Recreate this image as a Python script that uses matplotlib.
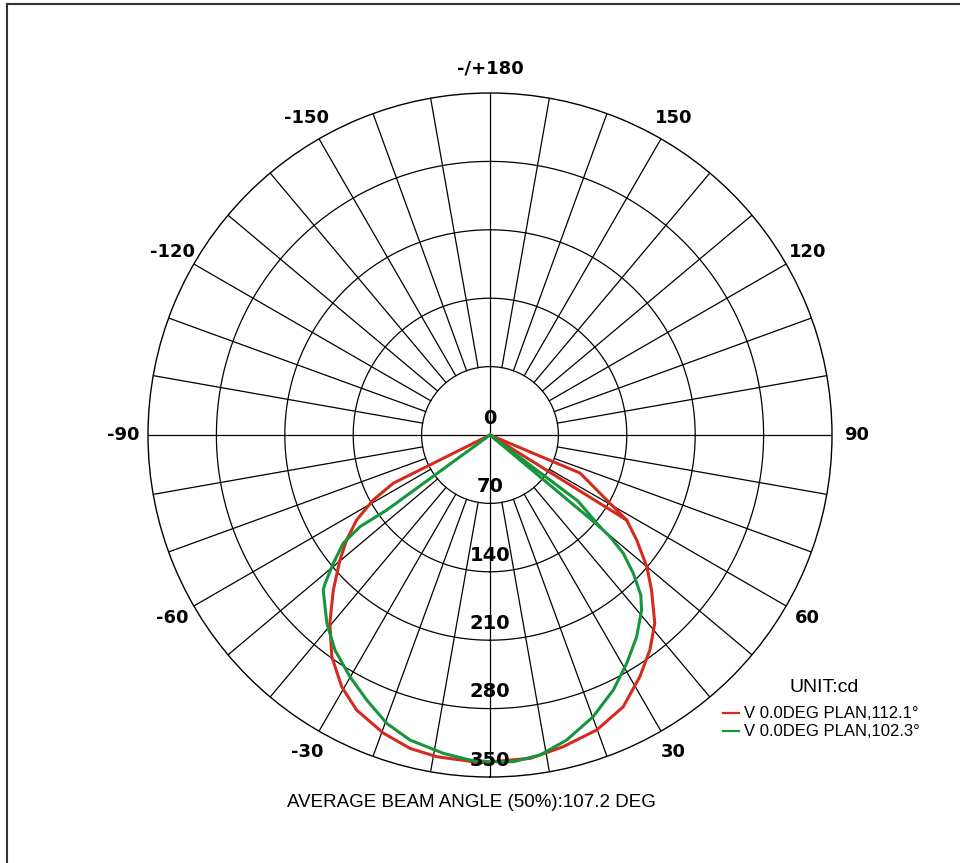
import numpy as np
import matplotlib.pyplot as plt
from matplotlib.lines import Line2D

# ---- data (angle in deg, 0 = down, + = right; value in cd)
red_deg = [58.1, 67.1, 90, -63.5, -60.9, -57.5, -53.8, -50.2, -45.3, -40.4, -35.5,
           -30.5, -25.9, -19.7, -14.3, -9.4, -1.7, 7.1, 13.2, 19.9, 26.1, 31.8,
           36.7, 41.2, 46.2, 50.0, 54.4, 58.1, 90]
red_cd = [164.7, 100, 0, 110.6, 136.7, 161.8, 181.8, 199.9, 225.6, 252.9, 278.8,
          299.0, 312.8, 324.0, 331.0, 333.7, 335.5, 333.5, 327.7, 321.0, 309.8, 291.0,
          274.0, 256.0, 229.0, 209.5, 184.6, 164.7, 0]

green_deg = [50.1, 53.1, 90, -54.0, -54.8, -53.6, -50.7, -48.0, -47.1, -40.9, -35.8,
             -30.1, -24.9, -19.7, -14.7, -8.3, -3.5, 0.0, 4.1, 8.9, 14.1, 20.1,
             25.8, 30.9, 36.0, 40.9, 43.3, 46.0, 48.4, 49.7, 50.1, 90]
green_cd = [146.8, 112.6, 0, 130.7, 162.8, 186.6, 207.3, 227.0, 233.0, 255.0, 271.3,
            285.9, 299.2, 313.5, 322.7, 329.3, 333.3, 334.4, 335.2, 331.5, 321.9, 307.0,
            289.9, 272.4, 255.3, 237.0, 225.0, 203.9, 182.4, 161.0, 146.8, 0]

ring_values = [0, 70, 140, 210, 280, 350]
ring_labels = ["0", "70", "140", "210", "280", "350"]

angle_ticks = [180, 150, 120, 90, 60, 30, -30, -60, -90, -120, -150]
angle_labels = ["-/+180", "150", "120", "90", "60", "30", "-30", "-60", "-90", "-120", "-150"]

series_labels = ["V 0.0DEG PLAN,112.1°", "V 0.0DEG PLAN,102.3°"]
series_colors = ["#d42b20", "#15963d"]

# ---- figure
W, H = 960, 863
fig = plt.figure(figsize=(W / 100, H / 100), dpi=100)
cx, cy, R = 490, 435, 342
ax = fig.add_axes([(cx - R) / W, (H - cy - R) / H, 2 * R / W, 2 * R / H], projection="polar")
ax.set_theta_zero_location("S")
ax.set_theta_direction(1)
ax.set_ylim(0, 350)
ax.set_xticks([])
ax.set_yticks([])
ax.grid(False)
ax.spines["polar"].set_linewidth(1.0)

# grid rings and spokes
full = np.linspace(0, 2 * np.pi, 721)
for v in ring_values[1:-1]:
    ax.plot(full, np.full_like(full, v), color="black", lw=0.9)
for a in range(0, 360, 10):
    r0 = 0 if a % 90 == 0 else ring_values[1]
    ax.plot([np.radians(a)] * 2, [r0, 350], color="black", lw=0.9)

# curves
ax.plot(np.radians(red_deg), red_cd, color=series_colors[0], lw=2.2)
ax.plot(np.radians(green_deg), green_cd, color=series_colors[1], lw=2.2)

# radial labels
for v, lab in zip(ring_values, ring_labels):
    ax.annotate(lab, xy=(0, v), xytext=(0, 12), textcoords="offset points",
                ha="center", va="center", fontsize=14, fontweight="bold")

# angle labels
for a, lab in zip(angle_ticks, angle_labels):
    ax.text(np.radians(a), 375, lab, ha="center", va="center",
            fontsize=13, fontweight="bold", clip_on=False)

# legend-like texts
def fx(x):
    return x / W

def fy(y):
    return 1 - y / H

fig.text(fx(824), fy(687), "UNIT:cd", ha="center", va="center",
         fontsize=14, family="Liberation Sans")
for i, (lab, col) in enumerate(zip(series_labels, series_colors)):
    y = 713 + i * 18
    fig.add_artist(Line2D([fx(723), fx(739)], [fy(y), fy(y)], color=col, lw=1.6))
    fig.text(fx(744), fy(y), lab, ha="left", va="center",
             fontsize=12, family="Liberation Sans")

fig.text(fx(471), fy(802), "AVERAGE BEAM ANGLE (50%):107.2 DEG", ha="center",
         va="center", fontsize=13.5, family="Liberation Sans")

# frame (top and left edges)
fig.add_artist(Line2D([fx(7), 1], [fy(4), fy(4)], color="#333333", lw=1.5))
fig.add_artist(Line2D([fx(7), fx(7)], [fy(4), 0], color="#333333", lw=1.5))

fig.savefig("out.png", dpi=100)
